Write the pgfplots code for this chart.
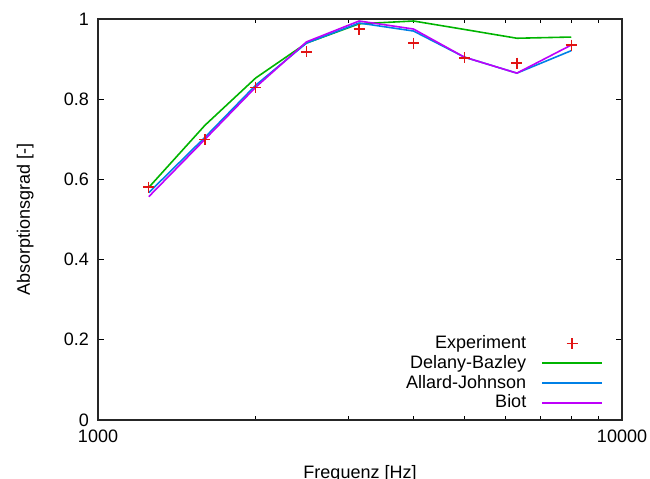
\documentclass[border=0pt]{standalone}
\usepackage{fontspec}
\setmainfont{Liberation Sans}
\usepackage{pgfplots}
\pgfplotsset{compat=1.18}
\definecolor{gpred}{RGB}{225,20,20}
\definecolor{gpgreen}{RGB}{0,180,0}
\definecolor{gpblue}{RGB}{0,128,230}
\definecolor{gppurple}{RGB}{190,0,250}

\begin{document}
\fontsize{18bp}{21bp}\selectfont
\begin{tikzpicture}
\begin{axis}[
    at={(0,0)}, anchor=south west,
    scale only axis,
    width=524bp, height=401bp,
    xmode=log,
    xmin=1000, xmax=10000,
    ymin=0, ymax=1,
    xtick={1000,10000},
    xticklabels={1000,10000},
    ytick={0,0.2,0.4,0.6,0.8,1},
    /pgf/number format/assume math mode=true,
    tick label style={font=\fontsize{18bp}{21bp}\selectfont},
    label style={font=\fontsize{18bp}{21bp}\selectfont},
    xticklabel style={yshift=-4bp},
    yticklabel style={xshift=-3bp},
    major tick length=6bp,
    minor tick length=4bp,
    tick style={line width=1pt, black},
    axis line style={line width=1.2pt, black!85},
    xlabel={Frequenz [Hz]},
    ylabel={Absorptionsgrad [-]},
    xlabel style={at={(axis description cs:0.5,-0.145)}, anchor=base},
    ylabel style={at={(axis description cs:-0.139,0.5)}, anchor=center},
    legend style={draw=none, fill=none, at={(0.9695,0.013)}, anchor=south east,
        font=\fontsize{18bp}{21bp}\selectfont, row sep=0bp, column sep=13bp},
    legend cell align=right,
    legend plot pos=right,
    legend image code/.code={\draw[mark repeat=2,mark phase=2,#1] plot coordinates {(0bp,0bp)(30bp,0bp)(60bp,0bp)};},
]
\addplot[gpgreen, line width=1.6pt, forget plot] coordinates {
(1250,0.580) (1600,0.735) (2000,0.853) (2500,0.940) (3150,0.988)
(4000,0.995) (5000,0.974) (6300,0.952) (8000,0.955)};
\addplot[gpblue, line width=1.6pt, forget plot] coordinates {
(1250,0.567) (1600,0.705) (2000,0.835) (2500,0.940) (3150,0.990)
(4000,0.970) (5000,0.905) (6300,0.865) (8000,0.921)};
\addplot[gppurple, line width=1.6pt, forget plot] coordinates {
(1250,0.557) (1600,0.700) (2000,0.830) (2500,0.943) (3150,0.995)
(4000,0.975) (5000,0.905) (6300,0.865) (8000,0.935)};
\addplot[only marks, mark=+, mark size=5.5bp, gpred, line width=1.3pt] coordinates {
(1250,0.581) (1600,0.700) (2000,0.830) (2500,0.918) (3150,0.975)
(4000,0.940) (5000,0.903) (6300,0.890) (8000,0.935)};
\addlegendentry{Experiment}
\addlegendimage{gpgreen, line width=1.6pt}
\addlegendentry{Delany-Bazley}
\addlegendimage{gpblue, line width=1.6pt}
\addlegendentry{Allard-Johnson}
\addlegendimage{gppurple, line width=1.6pt}
\addlegendentry{Biot}
\end{axis}
\pgfresetboundingbox
\path (-98bp,-59bp) rectangle (552bp,420bp);
\end{tikzpicture}
\end{document}
